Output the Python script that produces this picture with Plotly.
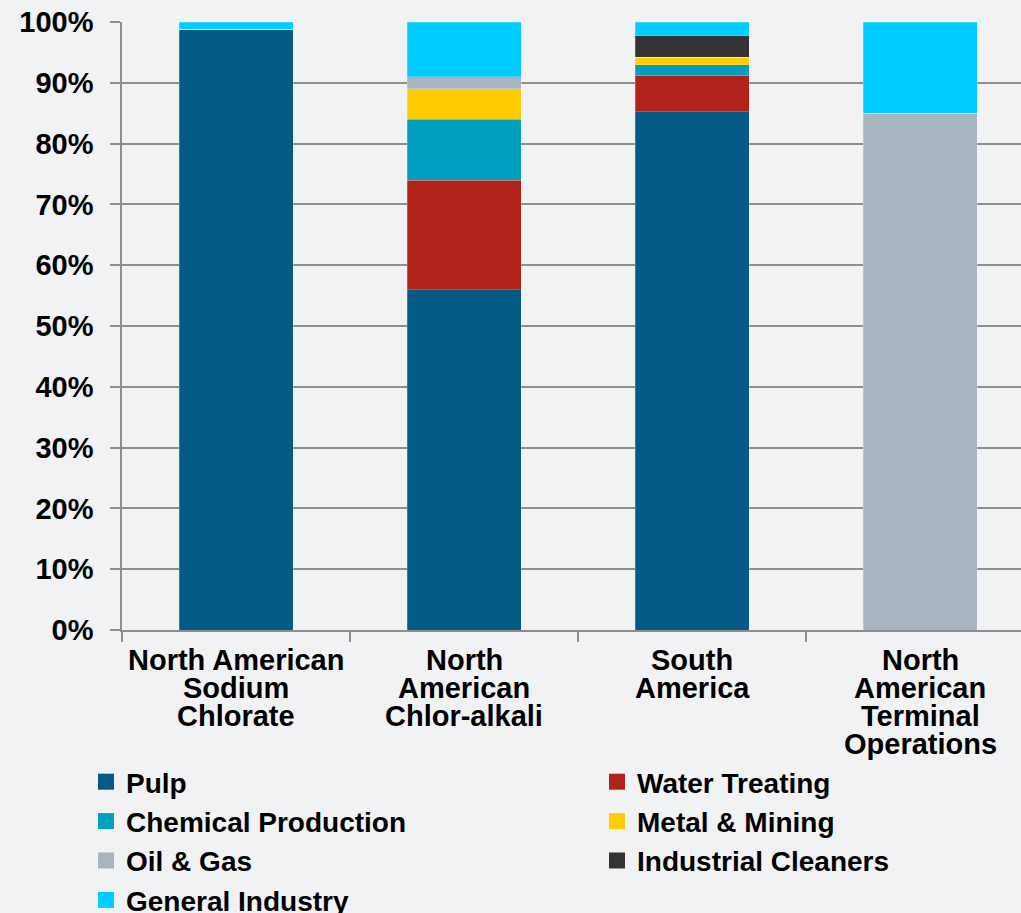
import plotly.graph_objects as go

categories = ["NA Sodium Chlorate", "NA Chlor-alkali", "South America", "NA Terminal Operations"]
category_labels = [
    ["North American", "Sodium", "Chlorate"],
    ["North", "American", "Chlor-alkali"],
    ["South", "America"],
    ["North", "American", "Terminal", "Operations"],
]

series_names = ["Pulp", "Water Treating", "Chemical Production", "Metal & Mining",
                "Oil & Gas", "Industrial Cleaners", "General Industry"]
pulp = [98.8, 56.0, 85.2, 0.0]
water_treating = [0.0, 18.0, 6.0, 0.0]
chemical_production = [0.0, 10.0, 1.8, 0.0]
metal_mining = [0.0, 5.0, 1.2, 0.0]
oil_gas = [0.0, 2.0, 0.0, 85.0]
industrial_cleaners = [0.0, 0.0, 3.5, 0.0]
general_industry = [1.2, 9.0, 2.3, 15.0]

series_values = [pulp, water_treating, chemical_production, metal_mining,
                 oil_gas, industrial_cleaners, general_industry]
colors = ["#035a84", "#b0231a", "#009fc0", "#ffcc00", "#a8b4c0", "#333333", "#00ccff"]

y_ticks = [0, 10, 20, 30, 40, 50, 60, 70, 80, 90, 100]
y_tick_labels = ["0%", "10%", "20%", "30%", "40%", "50%", "60%", "70%", "80%", "90%", "100%"]

BG = "#f1f2f4"
GRID = "#8e8e8e"
FONT = "Liberation Sans, Arial, sans-serif"

fig = go.Figure()
for name, vals, col in zip(series_names, series_values, colors):
    fig.add_trace(go.Bar(
        x=categories, y=vals, name=name, marker_color=col,
        marker_line=dict(width=0.6, color="rgba(255,255,255,0.35)"),
        width=0.5, showlegend=False,
    ))
# legend swatches
for name, col in zip(series_names, colors):
    fig.add_trace(go.Scatter(
        x=[None], y=[None], mode="markers", name=name,
        marker=dict(symbol="square", size=17, color=col),
    ))

for cat, lines in zip(categories, category_labels):
    for i, line in enumerate(lines):
        fig.add_annotation(
            x=cat, xref="x", y=0, yref="paper", text=line, showarrow=False,
            yanchor="middle", yshift=-30 - 28 * i,
            font=dict(family=FONT, size=29, color="#000000", weight="bold"),
        )

fig.update_layout(
    width=1021, height=913,
    paper_bgcolor=BG, plot_bgcolor=BG,
    margin=dict(l=0, r=0, t=22, b=283),
    barmode="stack", bargap=0.5,
    font=dict(family=FONT, size=29, color="#000000", weight="bold"),
    showlegend=True,
    legend=dict(
        orientation="h", entrywidth=466, entrywidthmode="pixels",
        xref="container", yref="container",
        x=86 / 1021, y=1 - 757 / 913, xanchor="left", yanchor="top",
        font=dict(family=FONT, size=28, color="#000000", weight="bold"),
        bgcolor="rgba(0,0,0,0)", tracegroupgap=0, traceorder="normal",
        itemwidth=30,
    ),
    xaxis=dict(
        type="category", range=[-0.5, 3.443], domain=[122 / 1021, 1],
        showticklabels=False, tickson="boundaries", ticks="outside",
        ticklen=10, tickcolor=GRID, tickwidth=1.5, automargin=False,
        showline=True, linecolor=GRID, linewidth=1.5,
        showgrid=False, zeroline=False, fixedrange=True,
    ),
    yaxis=dict(
        range=[0, 100], tickvals=y_ticks, ticktext=y_tick_labels,
        ticks="outside", ticklen=10, tickcolor=GRID, tickwidth=1.5,
        ticklabelstandoff=11, automargin=False,
        showline=True, linecolor=GRID, linewidth=1.5,
        showgrid=True, gridcolor=GRID, gridwidth=1.5, zeroline=False,
        tickfont=dict(family=FONT, size=29, color="#000000", weight="bold"),
    ),
)

fig.write_html(
    "out.html",
    config={"displayModeBar": False},
    post_script="document.body.style.margin='0';document.body.style.background='" + BG + "';",
)
